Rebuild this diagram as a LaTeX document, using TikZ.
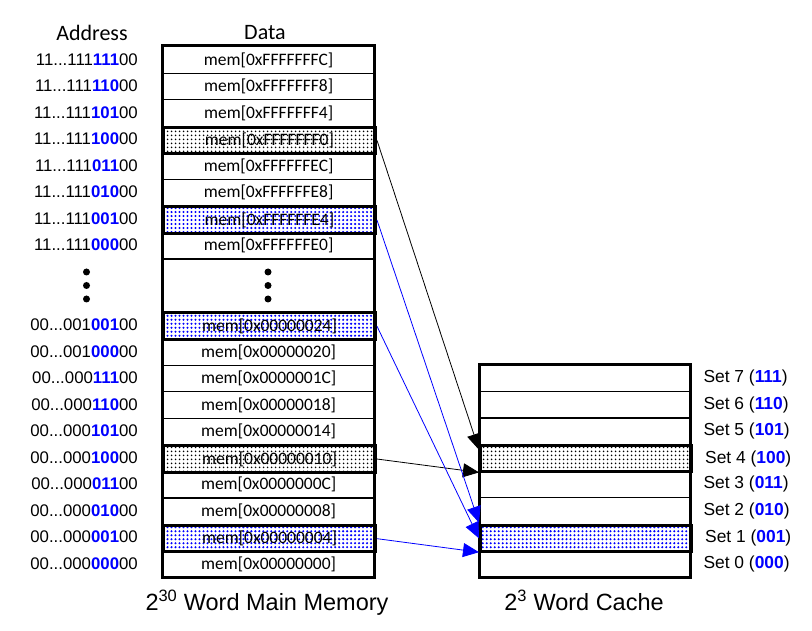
\documentclass[tikz,border=0pt]{standalone}
\usepackage{fontspec}
\newfontfamily\carl{Carlito}
\newfontfamily\arl{Liberation Sans}
\usetikzlibrary{patterns.meta,arrows.meta,calc}
\definecolor{bitblue}{RGB}{0,0,255}
\newcommand{\ad}[3]{#1{\bfseries\color{bitblue}#2}#3}
\newcommand{\bb}[1]{{\bfseries\color{bitblue}#1}}
\begin{document}
\begin{tikzpicture}[x=1pt,y=-1pt,
  cell/.style={draw,line width=1.3pt,minimum width=212pt,minimum height=26.55pt,inner sep=0pt,anchor=north west,font=\carl\fontsize{17.5}{20}\selectfont},
  ccell/.style={draw,line width=1.3pt,minimum width=211pt,minimum height=26.6pt,inner sep=0pt,anchor=north west},
  hlk/.style={line width=3pt,pattern color=black,pattern={Dots[distance=4pt,radius=1.1pt]}},
  hlb/.style={line width=3pt,pattern color=bitblue,pattern={Dots[distance=3.99pt,radius=1.15pt]}},
  addr/.style={anchor=east,inner sep=0pt,font=\arl\fontsize{16.8}{20}\selectfont},
  setl/.style={anchor=west,inner sep=0pt,font=\arl\fontsize{17.4}{20}\selectfont},
  head/.style={inner sep=0pt,font=\carl\fontsize{22}{24}\selectfont},
  captext/.style={inner sep=0pt,font=\arl\fontsize{23.5}{26}\selectfont},
  vdot/.style={fill=black,circle,inner sep=0pt,minimum size=7pt},
  blk/.style={line width=0.8pt,black,-{Triangle[length=16pt,width=14pt]}},
  blu/.style={line width=0.8pt,bitblue,-{Triangle[length=16pt,width=14pt]}}
]
\useasboundingbox (0,0) rectangle (812,631);
\node[head] (hA) at (92,33) {Address};
\node[head] (hD) at (265,33) {Data};
% memory rows
\foreach \i/\d/\a/\st in {0/FFFFFFFC/{\ad{11...111}{111}{00}}/,1/FFFFFFF8/{\ad{11...111}{110}{00}}/,2/FFFFFFF4/{\ad{11...111}{101}{00}}/,3/FFFFFFF0/{\ad{11...111}{100}{00}}/hlk,4/FFFFFFEC/{\ad{11...111}{011}{00}}/,5/FFFFFFE8/{\ad{11...111}{010}{00}}/,6/FFFFFFE4/{\ad{11...111}{001}{00}}/hlb,7/FFFFFFE0/{\ad{11...111}{000}{00}}/,10/00000024/{\ad{00...001}{001}{00}}/hlb,11/00000020/{\ad{00...001}{000}{00}}/,12/0000001C/{\ad{00...000}{111}{00}}/,13/00000018/{\ad{00...000}{110}{00}}/,14/00000014/{\ad{00...000}{101}{00}}/,15/00000010/{\ad{00...000}{100}{00}}/hlk,16/0000000C/{\ad{00...000}{011}{00}}/,17/00000008/{\ad{00...000}{010}{00}}/,18/00000004/{\ad{00...000}{001}{00}}/hlb,19/00000000/{\ad{00...000}{000}{00}}/}{
  \node[cell,\st] (m\i) at (162,{46+\i*26.55}) {mem[0x\d]};
  \node[addr] (a\i) at (138,{46+\i*26.55+13.3}) {\a};
}
\node[draw,line width=1.3pt,minimum width=212pt,minimum height=53.1pt,inner sep=0pt,anchor=north west] (gap) at (162,258.4) {};
\foreach \y/\n in {272/1,285.5/2,299/3}{
  \node[vdot] (dl\n) at (86.5,\y) {};
  \node[vdot] (dr\n) at (268,\y) {};
}
\draw[line width=3pt] (162,46) rectangle (374,577);
% cache
\foreach \k/\s/\st in {0/7/,1/6/,2/5/,3/4/hlk,4/3/,5/2/,6/1/hlb,7/0/}{
  \node[ccell,\st] (c\s) at (479,{364+\k*26.6}) {};
}
\draw[line width=3pt] (479,364) rectangle (690,577.5);
\foreach \s/\b in {7/111,6/110,5/101,4/100,3/011,2/010,1/001,0/000}{
  \node[setl] (sl\s) at ($(c\s.east)+(12,0)$) {Set \s\ (\bb{\b})};
}
% captions
\node[captext] (capm) at (267,603) {2\textsuperscript{30} Word Main Memory};
\node[captext] (capc) at (584,600) {2\textsuperscript{3} Word Cache};
% arrows
\coordinate (t1) at ($(c4.north west)+(0,6)$);
\coordinate (t2) at ($(c4.south west)+(0,-1)$);
\coordinate (t3) at ($(c1.north west)+(0,-1)$);
\coordinate (t4) at ($(c1.west)+(0,0)$);
\coordinate (t5) at ($(c1.south west)+(0,-1)$);
\draw[blk] (m3.east) -- (t1);
\draw[blk] (m15.east) -- (t2);
\draw[blu] (m6.east) -- (t3);
\draw[blu] (m10.east) -- (t4);
\draw[blu] (m18.east) -- (t5);
\end{tikzpicture}
\end{document}
